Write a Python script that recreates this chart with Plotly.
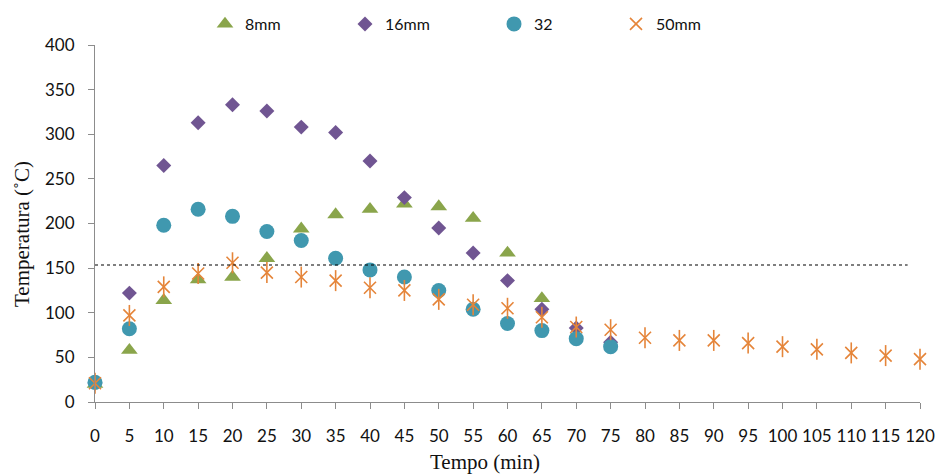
import plotly.graph_objects as go

# ---- data ----
t_8 = [0, 5, 10, 15, 20, 25, 30, 35, 40, 45, 50, 55, 60, 65]
v_8 = [20, 58, 114, 137, 140, 161, 194, 210, 216, 222, 219, 206, 167, 116]

t_16 = [0, 5, 10, 15, 20, 25, 30, 35, 40, 45, 50, 55, 60, 65, 70, 75]
v_16 = [21, 122, 265, 313, 333, 326, 308, 302, 270, 229, 195, 167, 136, 104, 83, 67]

t_32 = [0, 5, 10, 15, 20, 25, 30, 35, 40, 45, 50, 55, 60, 65, 70, 75]
v_32 = [22, 82, 198, 216, 208, 191, 181, 161, 148, 140, 125, 104, 88, 80, 71, 62]

t_50 = [0, 5, 10, 15, 20, 25, 30, 35, 40, 45, 50, 55, 60, 65, 70, 75,
        80, 85, 90, 95, 100, 105, 110, 115, 120]
v_50 = [21, 97, 129, 144, 156, 145, 140, 136, 128, 125, 115, 109, 105, 95, 84, 81,
        72, 69, 69, 66, 62, 59, 55, 52, 48]

threshold = 153.5
x_ticks = list(range(0, 125, 5))
y_ticks = list(range(0, 450, 50))

names = ["8mm", "16mm", "32", "50mm"]
green, purple, teal, orange = "#8AA54B", "#705592", "#4098AF", "#E5853A"

fig = go.Figure()
fig.add_trace(go.Scatter(x=t_8, y=v_8, mode="markers", name=names[0], legend="legend",
                         marker=dict(symbol="triangle-up", size=14.5, color=green),
                         cliponaxis=False))
fig.add_trace(go.Scatter(x=t_16, y=v_16, mode="markers", name=names[1], legend="legend2",
                         marker=dict(symbol="diamond", size=11.5, color=purple),
                         cliponaxis=False))
fig.add_trace(go.Scatter(x=t_32, y=v_32, mode="markers", name=names[2], legend="legend3",
                         marker=dict(symbol="circle", size=15, color=teal),
                         cliponaxis=False))
fig.add_trace(go.Scatter(x=t_50, y=v_50, mode="markers", name=names[3], legend="legend4",
                         marker=dict(symbol="x-thin-open", size=12, color=orange,
                                     line=dict(color=orange, width=1.6)),
                         cliponaxis=False))
fig.add_trace(go.Scatter(x=t_50, y=v_50, mode="markers", showlegend=False,
                         marker=dict(symbol="line-ns-open", size=15, color=orange,
                                     line=dict(color=orange, width=1.6)),
                         cliponaxis=False))

fig.add_shape(type="line", xref="x", yref="y", x0=0, x1=118.2, y0=threshold, y1=threshold,
              line=dict(color="black", width=1.2, dash="dot"))

L, R, T, B = 95, 18, 45, 72
W, H = 938, 474
pw, ph = W - L - R, H - T - B

def lx(px):
    return (px - L) / pw

ly = 1 + 21 / ph
legend_font = dict(family="Lato, Liberation Sans, sans-serif", size=16, color="#111")
common = dict(orientation="h", yanchor="middle", y=ly, xanchor="left",
              bgcolor="rgba(0,0,0,0)", font=legend_font, itemwidth=30)
tick_font = dict(family="Lato, Liberation Sans, sans-serif", size=17, color="#111")
title_font = dict(family="Liberation Serif, Times New Roman, serif", size=21, color="#111")

fig.update_layout(
    width=W, height=H,
    margin=dict(l=L, r=R, t=T, b=B, autoexpand=False),
    plot_bgcolor="white", paper_bgcolor="white",
    legend=dict(x=lx(226 - 21), **common),
    legend2=dict(x=lx(366 - 21), **common),
    legend3=dict(x=lx(515 - 21), **common),
    legend4=dict(x=lx(637 - 21), **common),
    xaxis=dict(range=[0, 120], tickvals=x_ticks, showgrid=False, zeroline=False,
               showline=True, linecolor="#8C8C8C", linewidth=1.2,
               ticks="outside", ticklen=6, tickcolor="#8C8C8C",
               ticklabelstandoff=12, tickfont=tick_font),
    yaxis=dict(range=[0, 400], tickvals=y_ticks, showgrid=False, zeroline=False,
               showline=True, linecolor="#8C8C8C", linewidth=1.2,
               ticks="outside", ticklen=6, tickcolor="#8C8C8C",
               ticklabelstandoff=10, tickfont=tick_font),
    annotations=[
        dict(text="Tempo (min)", xref="paper", yref="paper", x=lx(485), y=-(462 - T - ph) / ph,
             xanchor="center", yanchor="middle", showarrow=False, font=title_font),
        dict(text="Temperatura (˚C)", xref="paper", yref="paper", x=lx(22), y=1 - (234 - T) / ph,
             xanchor="center", yanchor="middle", showarrow=False, textangle=-90,
             font=title_font),
    ],
)

fig.write_html("out.html", config={"displayModeBar": False},
               post_script="document.body.style.margin='0';document.body.style.overflow='hidden';")
